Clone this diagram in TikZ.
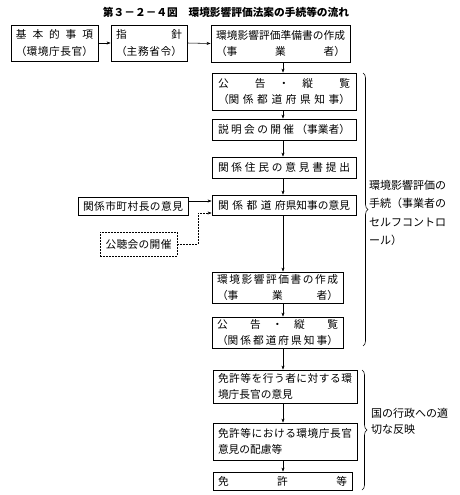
\documentclass[tikz,border=0pt]{standalone}
\usepackage{fontspec}
\setmainfont{Noto Sans CJK JP}
\usetikzlibrary{arrows.meta,decorations.pathreplacing}
\newcommand\spr[2]{\makebox[#1][s]{#2}}
\newcommand\bx[2]{\parbox{#1}{\fontsize{10.7}{16.5}\selectfont #2}}
\begin{document}
\begin{tikzpicture}[x=1pt,y=-1pt,
  box/.style={draw, line width=0.8pt, inner sep=0pt},
  dbox/.style={draw, line width=0.7pt, inner sep=0pt, dash pattern=on 1.6pt off 1.4pt},
  arr/.style={-{Stealth[length=4pt,width=3pt]}, line width=0.55pt},
  darr/.style={-{Stealth[length=4pt,width=3pt]}, line width=0.55pt, dash pattern=on 1.6pt off 1.4pt},
  brc/.style={decorate, decoration={brace, amplitude=5pt}, line width=0.6pt},
  side/.style={anchor=north west, inner sep=0pt, align=left}]
\useasboundingbox (0,0) rectangle (460,495);
% title
\node[font=\fontsize{10.7}{12}\selectfont\bfseries] (title) at (226,12) {第３－２－４図　環境影響評価法案の手続等の流れ};
% top row
\node[box, minimum width=87pt, minimum height=36pt] (b1) at (54.5,43)
  {\bx{77pt}{\spr{77pt}{基\hfill 本\hfill 的\hfill 事\hfill 項}\\\spr{77pt}{（環\hfill 境\hfill 庁\hfill 長\hfill 官）}}};
\node[box, minimum width=76pt, minimum height=36pt] (b2) at (149,43)
  {\bx{66pt}{\spr{66pt}{指\hfill 針}\\\spr{66pt}{（主\hfill 務\hfill 省\hfill 令）}}};
\node[box, minimum width=139pt, minimum height=37pt] (b3) at (280.5,43.5)
  {\bx{129pt}{\spr{129pt}{環\hfill 境\hfill 影\hfill 響\hfill 評\hfill 価\hfill 準\hfill 備\hfill 書\hfill の\hfill 作\hfill 成}\\\spr{129pt}{（事\hfill 業\hfill 者）}}};
% main column
\node[box, minimum width=144pt, minimum height=37pt] (b4) at (284,91.5)
  {\bx{132pt}{\spr{132pt}{公\hfill\hfill 告\hfill ・\hfill 縦\hfill\hfill 覧}\\\spr{132pt}{（関\hfill 係\hfill 都\hfill 道\hfill 府\hfill 県\hfill 知\hfill 事）}}};
\node[box, minimum width=144pt, minimum height=21pt] (b5) at (284,129.5)
  {\bx{132pt}{\spr{132pt}{説\hfill 明\hfill 会\hfill の\hfill 開\hfill 催\hfill （事業者）}}};
\node[box, minimum width=144pt, minimum height=21pt] (b6) at (284,167.5)
  {\bx{132pt}{\spr{132pt}{関\hfill 係\hfill 住\hfill 民\hfill の\hfill 意\hfill 見\hfill 書\hfill 提\hfill 出}}};
\node[box, minimum width=144pt, minimum height=20pt] (b7) at (284,205)
  {\bx{132pt}{\spr{132pt}{関\hfill 係\hfill 都\hfill 道\hfill 府県知事の意見}}};
\node[box, minimum width=131pt, minimum height=31pt] (b8) at (277.5,287.5)
  {\bx{121pt}{\spr{121pt}{環\hfill 境\hfill 影\hfill 響\hfill 評\hfill 価\hfill 書\hfill の\hfill 作\hfill 成}\\\spr{121pt}{（事\hfill 業\hfill 者）}}};
\node[box, minimum width=131pt, minimum height=31pt] (b9) at (277.5,332.5)
  {\bx{121pt}{\spr{121pt}{公\hfill\hfill 告\hfill ・\hfill 縦\hfill\hfill 覧}\\\spr{121pt}{（関\hfill 係\hfill 都\hfill 道\hfill 府\hfill 県\hfill 知\hfill 事）}}};
\node[box, minimum width=144pt, minimum height=33pt] (b10) at (285,386.5)
  {\bx{134pt}{\spr{134pt}{免\hfil 許\hfil 等\hfil を\hfil 行\hfil う\hfil 者\hfil に\hfil 対\hfil す\hfil る\hfil 環}\\境庁長官の意見}};
\node[box, minimum width=144pt, minimum height=37pt] (b11) at (285,441.5)
  {\bx{134pt}{\spr{134pt}{免\hfil 許\hfil 等\hfil に\hfil お\hfil け\hfil る\hfil 環\hfil 境\hfil 庁\hfil 長\hfil 官}\\意見の配慮等}};
\node[box, minimum width=139pt, minimum height=18pt] (b12) at (282.5,481)
  {\bx{129pt}{\spr{129pt}{免\hfill 許\hfill 等}}};
% left boxes
\node[box, minimum width=110pt, minimum height=18pt] (l1) at (133,206)
  {\bx{100pt}{\spr{100pt}{関\hfil 係\hfil 市\hfil 町\hfil 村\hfil 長\hfil の\hfil 意\hfil 見}}};
\node[dbox, minimum width=77pt, minimum height=24pt] (l2) at (138.5,244)
  {\bx{66pt}{\spr{66pt}{公\hfil 聴\hfil 会\hfil の\hfil 開\hfil 催}}};
% connectors
\coordinate (ax) at (283,0);
\coordinate (j) at (198,213);
\draw[arr] (b1.east) -- (b2.west);
\draw[arr] (b2.east) -- (b3.west);
\draw[arr] (b3.south -| ax) -- (b4.north -| ax);
\draw[arr] (b4.south -| ax) -- (b5.north -| ax);
\draw[arr] (b5.south -| ax) -- (b6.north -| ax);
\draw[arr] (b6.south -| ax) -- (b7.north -| ax);
\draw[arr] (b7.south -| ax) -- (b8.north -| ax);
\draw[arr] (b8.south -| ax) -- (b9.north -| ax);
\draw[arr] (b9.south -| ax) -- (b10.north -| ax);
\draw[arr] (b10.south -| ax) -- (b11.north -| ax);
\draw[arr] (b11.south -| ax) -- (b12.north -| ax);
\draw[arr] ([yshift=5pt]l1.east) -- ([yshift=5pt]l1.east -| b7.west);
\draw[darr] (l2.east) -| (j) -- (j -| b7.west);
% braces
\draw[brc] (363,73) -- (363,346);
\draw[brc] (362,370) -- (362,490);
\node[side, font=\fontsize{11}{18.5}\selectfont] (s1) at (369,180) {環境影響評価の\\手続（事業者の\\セルフコントロ\\ール）};
\node[side, font=\fontsize{11}{16}\selectfont] (s2) at (371,408) {国の行政への適\\切な反映};
\end{tikzpicture}
\end{document}
